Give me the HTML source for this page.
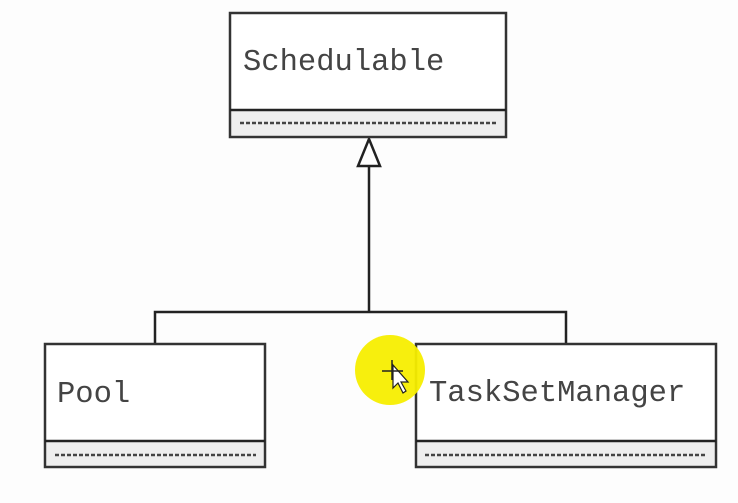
<!DOCTYPE html>
<html><head><style>
body{margin:0;background:#fdfdfd;width:738px;height:498px;overflow:hidden}
</style></head><body>
<svg width="738" height="498" viewBox="0 0 738 498" xmlns="http://www.w3.org/2000/svg">
<rect width="738" height="498" fill="#fdfdfd"/>
<g stroke="#222" stroke-width="2.5" fill="none">
<path d="M155 344 V312 H566 V344"/>
<path d="M369 312 V166"/>
</g>
<polygon points="369,139 358,166 380,166" fill="#fff" stroke="#222" stroke-width="2.5"/>
<!-- Schedulable -->
<rect x="230" y="13" width="276" height="124" fill="#fff" stroke="#333" stroke-width="2.5"/>
<rect x="231.5" y="111" width="273" height="24.5" fill="#eee"/>
<line x1="230" y1="110" x2="506" y2="110" stroke="#222" stroke-width="2.5"/>
<line x1="240" y1="123" x2="497" y2="123" stroke="#444" stroke-width="2.5" stroke-dasharray="4,2"/>
<text x="243" y="70" font-family="Liberation Mono, monospace" font-size="30.5" fill="#444">Schedulable</text>
<!-- Pool -->
<rect x="45" y="344" width="220" height="123" fill="#fff" stroke="#333" stroke-width="2.5"/>
<rect x="46.5" y="442" width="217" height="23.5" fill="#eee"/>
<line x1="45" y1="441" x2="265" y2="441" stroke="#222" stroke-width="2.5"/>
<line x1="55" y1="455" x2="256" y2="455" stroke="#444" stroke-width="2.5" stroke-dasharray="4,2"/>
<text x="57" y="402" font-family="Liberation Mono, monospace" font-size="30.5" fill="#444">Pool</text>
<!-- TaskSetManager -->
<rect x="416" y="344" width="300" height="123" fill="#fff" stroke="#333" stroke-width="2.5"/>
<rect x="417.5" y="442" width="297" height="23.5" fill="#eee"/>
<line x1="416" y1="441" x2="716" y2="441" stroke="#222" stroke-width="2.5"/>
<line x1="425" y1="455" x2="707" y2="455" stroke="#444" stroke-width="2.5" stroke-dasharray="4,2"/>
<text x="429" y="401" font-family="Liberation Mono, monospace" font-size="30.5" fill="#444">TaskSetManager</text>
<!-- cursor highlight -->
<circle cx="390" cy="370" r="35" fill="#f7ee00" opacity="0.95"/>
<path d="M393 365 L393 388 L398 383 L403 393 L406 391 L401 382 L408 382 Z" fill="#fff" stroke="#222" stroke-width="1.2"/>
<g stroke="#222" stroke-width="1.5"><line x1="382" y1="371" x2="403" y2="371"/><line x1="392" y1="360" x2="392" y2="380"/></g>
</svg>
</body></html>
